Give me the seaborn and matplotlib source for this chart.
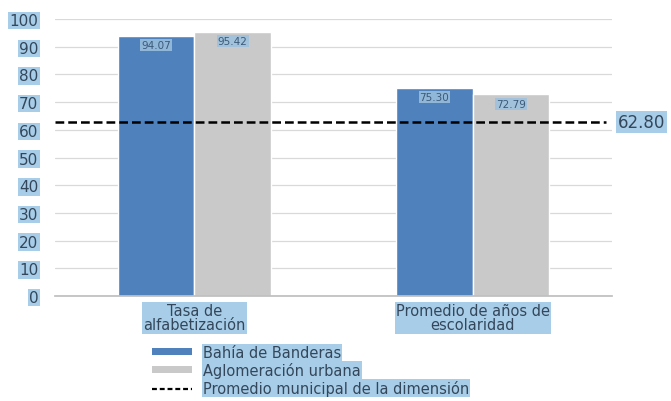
import matplotlib
matplotlib.use("Agg")
import matplotlib.pyplot as plt
from matplotlib.lines import Line2D
from matplotlib.patches import Patch
import seaborn as sns
import pandas as pd

categories = ["Tasa de\nalfabetización", "Promedio de años de\nescolaridad"]
series_names = ["Bahía de Banderas", "Aglomeración urbana"]
bahia = [94.07, 75.30]
aglomeracion = [95.42, 72.79]
bahia_labels = ["94.07", "75.30"]
aglomeracion_labels = ["95.42", "72.79"]
promedio_municipal = 62.80
promedio_label = "Promedio municipal de la dimensión"
yticks = [0, 10, 20, 30, 40, 50, 60, 70, 80, 90, 100]

BLUE = "#4F81BD"
GRAY = "#C9C9C9"
HL = "#A8CDE8"
TXT = "#34475a"

df = pd.DataFrame({
    "categoria": categories * 2,
    "serie": [series_names[0]] * 2 + [series_names[1]] * 2,
    "valor": bahia + aglomeracion,
})

sns.set_theme(style="white")
plt.rcParams["font.family"] = ["DejaVu Sans"]

fig = plt.figure(figsize=(6.71, 4.02), dpi=100)
ax = fig.add_axes([0.082, 0.261, 0.83, 0.689])

sns.barplot(data=df, x="categoria", y="valor", hue="serie",
            palette=[BLUE, GRAY], width=0.55, saturation=1,
            ax=ax, legend=False)

ax.set_ylim(0, 100)
ax.set_xlim(-0.5, 1.5)
ax.set_yticks(yticks)
ax.yaxis.grid(True, color="#d9d9d9", linewidth=0.9)
ax.set_axisbelow(True)
for s in ["top", "right", "left"]:
    ax.spines[s].set_visible(False)
ax.spines["bottom"].set_color("#bfbfbf")
ax.set_xlabel("")
ax.set_ylabel("")
ax.tick_params(axis="y", length=0, pad=12, labelsize=11, labelcolor=TXT)
ax.tick_params(axis="x", length=0, pad=5, labelsize=10.5, labelcolor=TXT)

hl_box = dict(boxstyle="square,pad=0.08", facecolor=HL, edgecolor="none")
for lab in ax.get_yticklabels() + ax.get_xticklabels():
    lab.set_bbox(hl_box)
for lab in ax.get_xticklabels():
    lab.set_linespacing(0.95)

# value labels inside the top of each bar
for container, labels in zip(ax.containers, [bahia_labels, aglomeracion_labels]):
    for bar, txt in zip(container, labels):
        x = bar.get_x() + bar.get_width() / 2
        y = bar.get_height()
        ax.text(x, y - 3.4, txt, ha="center", va="center", fontsize=7.5,
                color="#3b5a7a",
                bbox=dict(boxstyle="square,pad=0.1", facecolor="#9cc0de",
                          edgecolor="none", alpha=0.85))

# municipal average line
ax.axhline(promedio_municipal, xmin=0.0, xmax=0.99, color="black",
           linestyle=(0, (3.5, 1.6)), linewidth=1.8, zorder=5)
ax.text(1.52, promedio_municipal, f"{promedio_municipal:.2f}", ha="left",
        va="center", fontsize=12, color=TXT, clip_on=False,
        bbox=dict(boxstyle="square,pad=0.12", facecolor=HL, edgecolor="none"))

handles = [
    Patch(facecolor=BLUE, edgecolor="none"),
    Patch(facecolor=GRAY, edgecolor="none"),
    Line2D([0], [0], color="black", linestyle=(0, (2.2, 1.3)), linewidth=1.6),
]
leg = fig.legend(handles, series_names + [promedio_label],
                 loc="upper left", bbox_to_anchor=(0.226, 0.14),
                 frameon=False, fontsize=10.5, handlelength=2.8,
                 handleheight=0.4, handletextpad=0.7, labelspacing=0.15,
                 borderaxespad=0, borderpad=0)
for t in leg.get_texts():
    t.set_color(TXT)
    t.set_bbox(dict(boxstyle="square,pad=0.08", facecolor=HL, edgecolor="none"))

fig.savefig("out.png", dpi=100)
